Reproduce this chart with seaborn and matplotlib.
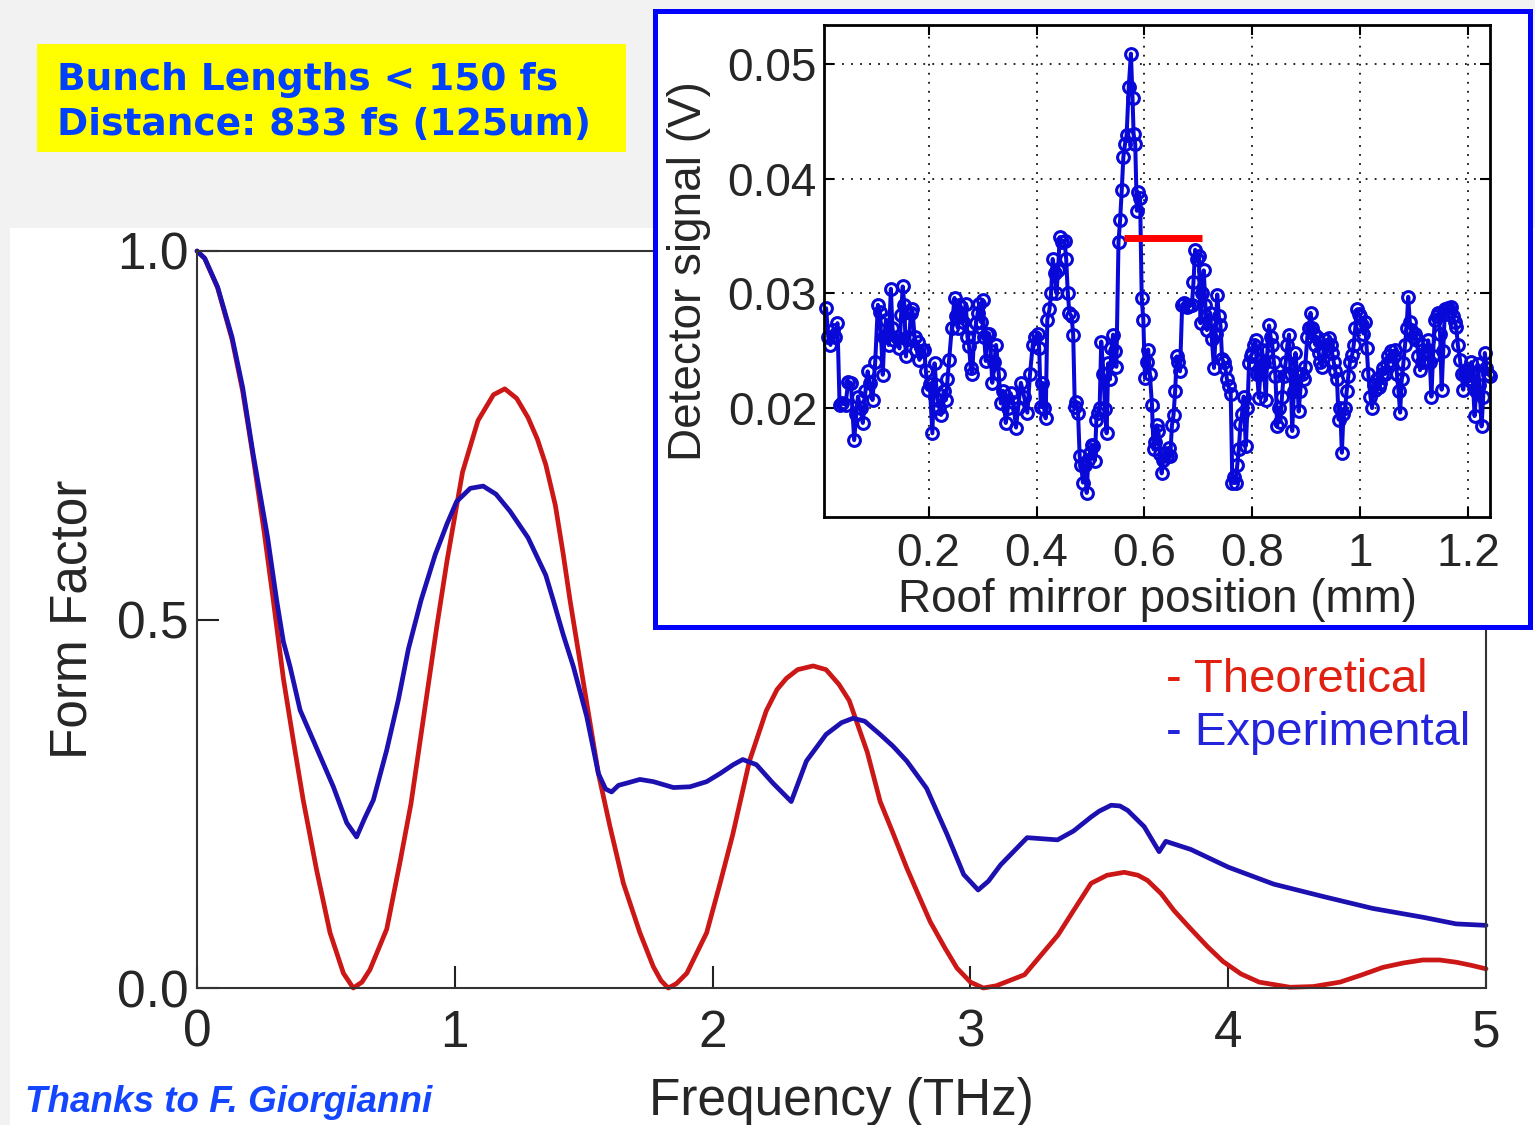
import matplotlib
matplotlib.use("Agg")
import matplotlib.pyplot as plt
from matplotlib.patches import Rectangle
import seaborn as sns

# main plot: form factor vs frequency (THz)
theo_freq = [0.0, 0.03, 0.08, 0.136, 0.177, 0.218, 0.26, 0.296, 0.335, 0.374, 0.412, 0.464, 0.516, 0.568,
             0.606, 0.64, 0.671, 0.736, 0.787, 0.83, 0.88, 0.93, 0.97, 1.03, 1.09, 1.15, 1.194, 1.24, 1.284,
             1.32, 1.353, 1.39, 1.42, 1.447, 1.499, 1.557, 1.602, 1.654, 1.718, 1.77, 1.80, 1.828, 1.86,
             1.90, 1.977, 2.029, 2.078, 2.143, 2.208, 2.25, 2.286, 2.33, 2.39, 2.44, 2.49, 2.53, 2.558, 2.60,
             2.65, 2.70, 2.753, 2.80, 2.844, 2.90, 2.948, 3.0, 3.05, 3.10, 3.21, 3.34, 3.40, 3.468, 3.53,
             3.597, 3.65, 3.687, 3.74, 3.79, 3.85, 3.92, 3.98, 4.05, 4.12, 4.24, 4.33, 4.434, 4.52, 4.60,
             4.68, 4.755, 4.82, 4.884, 4.94, 5.0]
theo_ff = [1.0, 0.99, 0.95, 0.88, 0.81, 0.72, 0.62, 0.526, 0.42, 0.335, 0.255, 0.160, 0.075, 0.020,
           0.0, 0.008, 0.025, 0.08, 0.17, 0.25, 0.37, 0.49, 0.58, 0.70, 0.77, 0.805, 0.813, 0.80, 0.774,
           0.745, 0.71, 0.655, 0.59, 0.526, 0.414, 0.291, 0.219, 0.142, 0.075, 0.029, 0.01, 0.0, 0.006,
           0.02, 0.075, 0.142, 0.208, 0.308, 0.376, 0.405, 0.42, 0.432, 0.437, 0.432, 0.412, 0.39, 0.362, 0.32,
           0.253, 0.21, 0.163, 0.125, 0.09, 0.055, 0.027, 0.008, 0.0, 0.003, 0.018, 0.072, 0.105, 0.142, 0.153,
           0.157, 0.153, 0.146, 0.128, 0.105, 0.082, 0.056, 0.036, 0.019, 0.008, 0.001, 0.002, 0.008, 0.018, 0.028,
           0.034, 0.038, 0.038, 0.035, 0.031, 0.026]

exp_freq = [0.0, 0.03, 0.08, 0.136, 0.177, 0.218, 0.274, 0.309, 0.335, 0.361, 0.40, 0.451, 0.529, 0.581,
            0.619, 0.65, 0.684, 0.736, 0.781, 0.82, 0.869, 0.924, 0.97, 1.007, 1.06, 1.11, 1.16, 1.214,
            1.284, 1.353, 1.382, 1.42, 1.46, 1.512, 1.557, 1.585, 1.608, 1.635, 1.667, 1.718, 1.77, 1.848,
            1.912, 1.977, 2.029, 2.08, 2.117, 2.17, 2.234, 2.305, 2.364, 2.44, 2.50, 2.545, 2.59, 2.65, 2.70,
            2.753, 2.83, 2.91, 2.974, 3.03, 3.07, 3.117, 3.22, 3.338, 3.40, 3.468, 3.50, 3.546, 3.58, 3.61,
            3.674, 3.732, 3.758, 3.855, 4.0, 4.176, 4.37, 4.56, 4.755, 4.884, 5.0]
exp_ff = [1.0, 0.99, 0.951, 0.883, 0.815, 0.724, 0.611, 0.526, 0.47, 0.436, 0.377, 0.336, 0.273, 0.224,
          0.205, 0.23, 0.255, 0.323, 0.391, 0.46, 0.526, 0.588, 0.63, 0.66, 0.678, 0.681, 0.67, 0.647,
          0.611, 0.56, 0.526, 0.48, 0.436, 0.368, 0.291, 0.27, 0.266, 0.275, 0.278, 0.283, 0.28, 0.272,
          0.273, 0.28, 0.291, 0.303, 0.31, 0.303, 0.278, 0.253, 0.308, 0.344, 0.36, 0.366, 0.362, 0.344, 0.328,
          0.308, 0.271, 0.208, 0.154, 0.133, 0.145, 0.167, 0.204, 0.201, 0.213, 0.232, 0.24, 0.248, 0.247, 0.241,
          0.219, 0.185, 0.199, 0.188, 0.164, 0.141, 0.124, 0.108, 0.096, 0.087, 0.085]

# inset: detector signal (V) vs roof mirror position (mm)
pos_mm = [0.010, 0.014, 0.018, 0.022, 0.027, 0.031, 0.035, 0.040, 0.046, 0.051, 0.056, 0.062, 0.066, 0.069,
          0.074, 0.078, 0.083, 0.087, 0.091, 0.096, 0.101, 0.106, 0.110, 0.115, 0.118, 0.121, 0.126, 0.130,
          0.133, 0.136, 0.141, 0.146, 0.149, 0.152, 0.155, 0.158, 0.161, 0.164, 0.167, 0.170, 0.174, 0.177,
          0.180, 0.183, 0.188, 0.192, 0.195, 0.198, 0.202, 0.207, 0.211, 0.214, 0.217, 0.220, 0.223, 0.228,
          0.232, 0.235, 0.238, 0.243, 0.248, 0.251, 0.254, 0.257, 0.260, 0.264, 0.269, 0.272, 0.275, 0.278,
          0.281, 0.284, 0.288, 0.291, 0.294, 0.297, 0.300, 0.303, 0.306, 0.309, 0.312, 0.315, 0.318, 0.322,
          0.325, 0.330, 0.334, 0.338, 0.343, 0.347, 0.352, 0.357, 0.362, 0.366, 0.371, 0.377, 0.383, 0.388,
          0.393, 0.398, 0.402, 0.405, 0.408, 0.411, 0.414, 0.417, 0.420, 0.424, 0.427, 0.430, 0.434, 0.437,
          0.440, 0.443, 0.447, 0.452, 0.455, 0.458, 0.461, 0.465, 0.468, 0.471, 0.474, 0.477, 0.480, 0.483,
          0.486, 0.490, 0.493, 0.496, 0.499, 0.502, 0.505, 0.508, 0.511, 0.514, 0.517, 0.520, 0.524, 0.527,
          0.530, 0.533, 0.536, 0.539, 0.542, 0.545, 0.548, 0.552, 0.555, 0.558, 0.561, 0.564, 0.567, 0.571,
          0.575, 0.578, 0.580, 0.583, 0.586, 0.589, 0.592, 0.595, 0.598, 0.601, 0.604, 0.607, 0.610, 0.614,
          0.617, 0.620, 0.623, 0.626, 0.629, 0.632, 0.635, 0.638, 0.642, 0.645, 0.648, 0.651, 0.654, 0.657,
          0.660, 0.663, 0.666, 0.670, 0.674, 0.679, 0.683, 0.688, 0.691, 0.694, 0.697, 0.701, 0.704, 0.707,
          0.710, 0.713, 0.716, 0.719, 0.722, 0.725, 0.729, 0.732, 0.735, 0.738, 0.741, 0.744, 0.747, 0.750,
          0.753, 0.756, 0.760, 0.763, 0.766, 0.769, 0.772, 0.775, 0.778, 0.781, 0.784, 0.788, 0.791, 0.794,
          0.797, 0.800, 0.803, 0.806, 0.809, 0.812, 0.815, 0.818, 0.821, 0.825, 0.828, 0.831, 0.834, 0.837,
          0.840, 0.843, 0.846, 0.849, 0.852, 0.855, 0.858, 0.862, 0.865, 0.868, 0.871, 0.874, 0.877, 0.880,
          0.883, 0.886, 0.889, 0.892, 0.895, 0.898, 0.902, 0.905, 0.908, 0.911, 0.914, 0.917, 0.920, 0.923,
          0.926, 0.929, 0.932, 0.935, 0.938, 0.942, 0.945, 0.948, 0.951, 0.954, 0.957, 0.960, 0.963, 0.966,
          0.969, 0.972, 0.975, 0.978, 0.981, 0.985, 0.988, 0.991, 0.994, 0.997, 1.000, 1.003, 1.006, 1.009,
          1.012, 1.015, 1.019, 1.022, 1.025, 1.028, 1.031, 1.034, 1.037, 1.040, 1.043, 1.046, 1.049, 1.052,
          1.055, 1.058, 1.062, 1.065, 1.068, 1.071, 1.074, 1.077, 1.080, 1.083, 1.086, 1.089, 1.092, 1.095,
          1.099, 1.102, 1.105, 1.108, 1.111, 1.114, 1.117, 1.120, 1.123, 1.126, 1.129, 1.132, 1.135, 1.138,
          1.142, 1.145, 1.148, 1.151, 1.154, 1.157, 1.160, 1.163, 1.166, 1.169, 1.172, 1.175, 1.178, 1.181,
          1.185, 1.188, 1.191, 1.194, 1.197, 1.200, 1.203, 1.206, 1.209, 1.212, 1.215, 1.218, 1.221, 1.225,
          1.228, 1.231, 1.234, 1.237, 1.240]
signal_v = [0.0287, 0.0262, 0.0255, 0.0268, 0.0262, 0.0274, 0.0203, 0.0204, 0.0203, 0.0223, 0.0222, 0.0172, 0.0195, 0.0210,
            0.0200, 0.0187, 0.0215, 0.0232, 0.0222, 0.0207, 0.0240, 0.0290, 0.0284, 0.0229, 0.0262, 0.0277, 0.0255, 0.0304,
            0.0270, 0.0259, 0.0262, 0.0252, 0.0281, 0.0306, 0.0290, 0.0245, 0.0262, 0.0260, 0.0283, 0.0286, 0.0262, 0.0251,
            0.0258, 0.0242, 0.0250, 0.0251, 0.0232, 0.0216, 0.0221, 0.0178, 0.0239, 0.0220, 0.0207, 0.0200, 0.0194, 0.0215,
            0.0207, 0.0225, 0.0242, 0.0270, 0.0296, 0.0280, 0.0270, 0.0290, 0.0288, 0.0275, 0.0291, 0.0262, 0.0254, 0.0235,
            0.0230, 0.0262, 0.0274, 0.0283, 0.0291, 0.0275, 0.0294, 0.0262, 0.0241, 0.0265, 0.0265, 0.0250, 0.0222, 0.0240,
            0.0255, 0.0230, 0.0204, 0.0215, 0.0187, 0.0200, 0.0213, 0.0205, 0.0183, 0.0200, 0.0222, 0.0210, 0.0196, 0.0230,
            0.0255, 0.0262, 0.0265, 0.0252, 0.0201, 0.0222, 0.0200, 0.0191, 0.0277, 0.0286, 0.0300, 0.0330, 0.0318, 0.0300,
            0.0320, 0.0349, 0.0345, 0.0346, 0.0330, 0.0300, 0.0283, 0.0280, 0.0264, 0.0201, 0.0205, 0.0196, 0.0158, 0.0150,
            0.0135, 0.0150, 0.0126, 0.0155, 0.0161, 0.0168, 0.0167, 0.0154, 0.0190, 0.0196, 0.0200, 0.0258, 0.0230, 0.0199,
            0.0178, 0.0239, 0.0225, 0.0252, 0.0264, 0.0250, 0.0236, 0.0345, 0.0364, 0.0390, 0.0419, 0.0430, 0.0438, 0.0480,
            0.0509, 0.0470, 0.0439, 0.0430, 0.0372, 0.0388, 0.0383, 0.0296, 0.0277, 0.0226, 0.0240, 0.0251, 0.0230, 0.0203,
            0.0164, 0.0170, 0.0185, 0.0180, 0.0160, 0.0143, 0.0155, 0.0161, 0.0158, 0.0165, 0.0158, 0.0185, 0.0194, 0.0215,
            0.0245, 0.0240, 0.0232, 0.0290, 0.0292, 0.0288, 0.0289, 0.0290, 0.0310, 0.0338, 0.0330, 0.0333, 0.0274, 0.0300,
            0.0320, 0.0290, 0.0268, 0.0275, 0.0283, 0.0260, 0.0235, 0.0265, 0.0299, 0.0280, 0.0272, 0.0243, 0.0240, 0.0235,
            0.0225, 0.0219, 0.0212, 0.0135, 0.0140, 0.0135, 0.0150, 0.0164, 0.0186, 0.0195, 0.0210, 0.0167, 0.0200, 0.0239,
            0.0245, 0.0248, 0.0255, 0.0259, 0.0230, 0.0209, 0.0230, 0.0251, 0.0239, 0.0207, 0.0250, 0.0272, 0.0262, 0.0255,
            0.0240, 0.0228, 0.0184, 0.0200, 0.0188, 0.0210, 0.0228, 0.0240, 0.0255, 0.0264, 0.0230, 0.0180, 0.0215, 0.0248,
            0.0230, 0.0197, 0.0215, 0.0230, 0.0225, 0.0236, 0.0262, 0.0270, 0.0283, 0.0270, 0.0265, 0.0255, 0.0262, 0.0248,
            0.0240, 0.0236, 0.0250, 0.0259, 0.0255, 0.0261, 0.0255, 0.0248, 0.0240, 0.0232, 0.0225, 0.0190, 0.0200, 0.0161,
            0.0195, 0.0200, 0.0215, 0.0228, 0.0240, 0.0246, 0.0255, 0.0270, 0.0286, 0.0282, 0.0280, 0.0272, 0.0265, 0.0275,
            0.0252, 0.0230, 0.0210, 0.0200, 0.0220, 0.0216, 0.0225, 0.0218, 0.0222, 0.0230, 0.0235, 0.0230, 0.0238, 0.0245,
            0.0241, 0.0250, 0.0245, 0.0251, 0.0230, 0.0215, 0.0196, 0.0225, 0.0239, 0.0255, 0.0270, 0.0297, 0.0275, 0.0268,
            0.0262, 0.0265, 0.0259, 0.0245, 0.0233, 0.0240, 0.0255, 0.0248, 0.0250, 0.0259, 0.0240, 0.0210, 0.0245, 0.0277,
            0.0280, 0.0283, 0.0265, 0.0216, 0.0250, 0.0286, 0.0282, 0.0287, 0.0285, 0.0288, 0.0280, 0.0275, 0.0271, 0.0255,
            0.0242, 0.0230, 0.0216, 0.0230, 0.0228, 0.0233, 0.0225, 0.0240, 0.0222, 0.0193, 0.0215, 0.0238, 0.0220, 0.0184,
            0.0210, 0.0248, 0.0235, 0.0230, 0.0228]

# FWHM marker on the inset
fwhm_start = 0.562
fwhm_end = 0.707
fwhm_level = 0.0348

freq_ticks = [0, 1, 2, 3, 4, 5]
ff_ticks = [0.0, 0.5, 1.0]
ff_tick_labels = ["0.0", "0.5", "1.0"]
pos_ticks = [0.2, 0.4, 0.6, 0.8, 1.0, 1.2]
pos_tick_labels = ["0.2", "0.4", "0.6", "0.8", "1", "1.2"]
sig_ticks = [0.02, 0.03, 0.04, 0.05]
sig_tick_labels = ["0.02", "0.03", "0.04", "0.05"]

sns.set_theme(style="white")
plt.rcParams["font.family"] = ["Liberation Sans", "DejaVu Sans"]

W, H = 1535, 1125
fig = plt.figure(figsize=(W / 100, H / 100), dpi=100, facecolor="#f2f2f2")

def fx(px):
    return px / W

def fy(py):
    return 1 - py / H

# white area behind the main plot
fig.patches.append(Rectangle((fx(10), 0), 1 - fx(10), fy(228), transform=fig.transFigure,
                             facecolor="white", edgecolor="none", zorder=-5))

# main axes
ax = fig.add_axes([fx(197), fy(988), fx(1486 - 197), (988 - 251) / H])
ax.set_facecolor("white")
sns.lineplot(x=theo_freq, y=theo_ff, ax=ax, color="#cc1717", linewidth=3.4, estimator=None, sort=False, clip_on=False)
sns.lineplot(x=exp_freq, y=exp_ff, ax=ax, color="#1c10b0", linewidth=3.4, estimator=None, sort=False, clip_on=False)
ax.set_xlim(0, 5)
ax.set_ylim(0, 1)
ax.set_xticks(freq_ticks)
ax.set_yticks(ff_ticks)
ax.set_yticklabels(ff_tick_labels)
ax.tick_params(axis="both", direction="in", length=16, width=1.5, color="#222222", labelsize=37,
               bottom=True, left=True, top=False, right=False)
ax.tick_params(axis="x", pad=15)
ax.tick_params(axis="y", pad=6)
for s in ax.spines.values():
    s.set_color("#333333")
    s.set_linewidth(1.5)
ax.set_xlabel("Frequency (THz)", fontsize=37, labelpad=14)
ax.set_ylabel("Form Factor", fontsize=37, labelpad=14)

# legend as coloured text
fig.text(fx(1166), fy(680), "- Theoretical", fontsize=34, color="#e02010", va="center", ha="left")
fig.text(fx(1166), fy(733), "- Experimental", fontsize=34, color="#2424dc", va="center", ha="left")

# blue frame around inset
fig.patches.append(Rectangle((fx(654.5), fy(626.5)), fx(1530.5 - 654.5), (626.5 - 10.5) / H,
                             transform=fig.transFigure, facecolor="white", edgecolor="#0000ff",
                             linewidth=3.6, zorder=2))

# inset axes
ax_in = fig.add_axes([fx(824), fy(517), fx(1490 - 824), (517 - 25) / H])
ax_in.set_zorder(3)
ax_in.set_facecolor("white")
sns.lineplot(x=pos_mm, y=signal_v, ax=ax_in, color="#0808d8", linewidth=2.9, estimator=None, sort=False,
             marker="o", markersize=8.5, markerfacecolor="none", markeredgecolor="#0808d8",
             markeredgewidth=2.2, clip_on=False)
ax_in.hlines(fwhm_level, fwhm_start, fwhm_end, color="#ff0000", linewidth=5, zorder=5)
ax_in.set_xlim(0.0061, 1.2406)
ax_in.set_ylim(0.0105, 0.0534)
ax_in.set_xticks(pos_ticks)
ax_in.set_xticklabels(pos_tick_labels)
ax_in.set_yticks(sig_ticks)
ax_in.set_yticklabels(sig_tick_labels)
ax_in.grid(True, linestyle=(0, (1, 4)), color="#111111", linewidth=1.3)
ax_in.tick_params(axis="both", direction="in", length=7, width=1.5, color="black", labelsize=33,
                  bottom=True, left=True, top=True, right=True)
ax_in.tick_params(axis="x", pad=11)
ax_in.tick_params(axis="y", pad=5)
for s in ax_in.spines.values():
    s.set_color("black")
    s.set_linewidth(2)
ax_in.set_xlabel("Roof mirror position (mm)", fontsize=33, labelpad=1)
ax_in.set_ylabel("Detector signal (V)", fontsize=33, labelpad=12)

# yellow note box
fig.patches.append(Rectangle((fx(37), fy(152)), fx(626 - 37), (152 - 44) / H, transform=fig.transFigure,
                             facecolor="#ffff00", edgecolor="none", zorder=1))
fig.text(fx(57), fy(80), "Bunch Lengths < 150 fs", fontsize=27, fontweight="bold", color="#0040ff",
         family="DejaVu Sans", va="center", ha="left", zorder=4)
fig.text(fx(57), fy(125), "Distance: 833 fs (125um)", fontsize=27, fontweight="bold", color="#0040ff",
         family="DejaVu Sans", va="center", ha="left", zorder=4)

fig.text(fx(25), fy(1102), "Thanks to F. Giorgianni", fontsize=26.5, fontweight="bold", fontstyle="italic",
         color="#1446ff", va="center", ha="left")

fig.savefig("out.png", dpi=100, facecolor=fig.get_facecolor())
